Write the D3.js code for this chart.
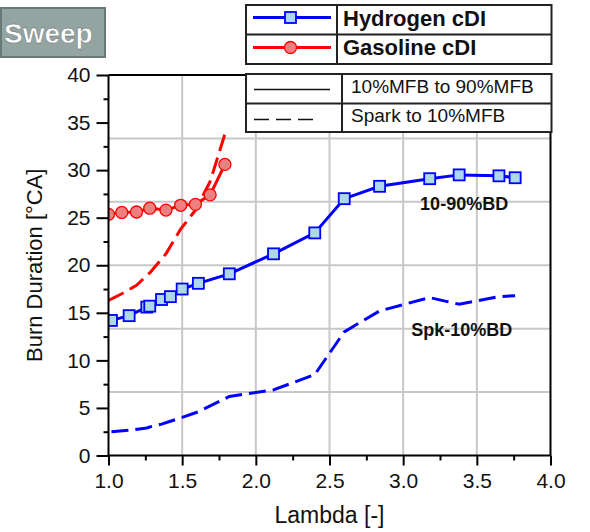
<!DOCTYPE html>
<html>
<head>
<meta charset="utf-8">
<script src="https://cdn.jsdelivr.net/npm/d3@7"></script>
<style>
  body { margin: 0; background: #fff; }
  svg { display: block; }
  text { font-family: "Liberation Sans", Arial, sans-serif; }
</style>
</head>
<body>
<svg id="chart" width="590" height="532"></svg>
<script>
// Hydrogen cDI sweep (lambda vs burn duration, °CA)
const hydrogenLambda  = [1.02, 1.14, 1.26, 1.28, 1.36, 1.42, 1.50, 1.61, 1.82, 2.12, 2.40, 2.60, 2.84, 3.18, 3.38, 3.65, 3.76];
const hydrogenBurn1090 = [14.2, 14.7, 15.6, 15.7, 16.4, 16.7, 17.5, 18.1, 19.1, 21.2, 23.4, 27.0, 28.3, 29.1, 29.5, 29.4, 29.2];
const hydrogenSpk10    = [2.5, 2.65, 2.9, 3.0, 3.3, 3.6, 4.0, 4.6, 6.2, 6.9, 8.5, 13.0, 15.2, 16.6, 15.9, 16.7, 16.8];

// Gasoline cDI sweep
const gasolineLambda   = [1.00, 1.09, 1.19, 1.28, 1.39, 1.49, 1.59, 1.69, 1.79];
const gasolineBurn1090 = [25.35, 25.55, 25.6, 26.0, 25.8, 26.3, 26.4, 27.4, 30.6];
const gasolineSpk10    = [16.3, 17.0, 17.9, 19.2, 21.2, 23.8, 25.8, 28.8, 33.8];

// Axis ticks and grid positions
const xMajorTicks = [1.0, 1.5, 2.0, 2.5, 3.0, 3.5, 4.0];
const xMinorTicks = [1.25, 1.75, 2.25, 2.75, 3.25, 3.75];
const yMajorTicks = [0, 5, 10, 15, 20, 25, 30, 35, 40];
const yMinorTicks = [2.5, 7.5, 12.5, 17.5, 22.5, 27.5, 32.5, 37.5];
const xGrid = [1.5, 2.0, 2.5, 3.0, 3.5];
const yGrid = [20 / 3, 40 / 3, 20, 80 / 3, 100 / 3];

// Curve annotations (data units)
const curveLabels = [
  { text: "10-90%BD",  lambda: 3.115, value: 25.8 },
  { text: "Spk-10%BD", lambda: 3.055, value: 12.55 }
];

const seriesLegend = ["Hydrogen cDI", "Gasoline cDI"];
const styleLegend = ["10%MFB to 90%MFB", "Spark to 10%MFB"];

const BLUE = "#0000ff", RED = "#ff0000";
const DASH = "17,7";
const SQ = 11;   // square marker side
const CR = 6;    // circle marker radius

const svg = d3.select("#chart");
const x = d3.scaleLinear().domain([1, 4]).range([108.5, 550.5]);
const y = d3.scaleLinear().domain([0, 40]).range([455.5, 75]);
const [x0, x1] = x.range();
const [yb, yt] = y.range();

// "Sweep" tag
svg.append("rect").attr("x", 1).attr("y", 8).attr("width", 104).attr("height", 49)
  .attr("fill", "#93a4a1").attr("stroke", "#667b78").attr("stroke-width", 2);
svg.append("text").attr("x", 4).attr("y", 43).attr("font-size", 28).attr("font-weight", "bold")
  .attr("fill", "#fff").attr("stroke", "#55606a").attr("stroke-width", 0.4).text("Sweep");

// Grid
const grid = svg.append("g").attr("stroke", "#c8c8c8").attr("stroke-width", 2);
grid.selectAll(".gx").data(xGrid).join("line")
  .attr("x1", d => x(d)).attr("x2", d => x(d)).attr("y1", yt).attr("y2", yb);
grid.selectAll(".gy").data(yGrid).join("line")
  .attr("y1", d => y(d)).attr("y2", d => y(d)).attr("x1", x0).attr("x2", x1);

// Plot clip
svg.append("clipPath").attr("id", "plotClip").append("rect")
  .attr("x", x0).attr("y", yt).attr("width", x1 - x0).attr("height", yb - yt);
const plot = svg.append("g").attr("clip-path", "url(#plotClip)");

function drawLine(xs, ys, color, dashed) {
  const pts = xs.map((v, i) => [v, ys[i]]);
  plot.append("path").datum(pts)
    .attr("fill", "none").attr("stroke", color).attr("stroke-width", 3)
    .attr("stroke-dasharray", dashed ? DASH : null)
    .attr("d", d3.line().x(d => x(d[0])).y(d => y(d[1])));
}

drawLine(gasolineLambda, gasolineSpk10, RED, true);
drawLine(hydrogenLambda, hydrogenSpk10, BLUE, true);
drawLine(gasolineLambda, gasolineBurn1090, RED, false);
drawLine(hydrogenLambda, hydrogenBurn1090, BLUE, false);

// Markers
plot.selectAll(".circ").data(gasolineLambda.map((v, i) => [v, gasolineBurn1090[i]])).join("circle")
  .attr("cx", d => x(d[0])).attr("cy", d => y(d[1])).attr("r", CR)
  .attr("fill", "#f08080").attr("stroke", RED).attr("stroke-width", 1.3);
plot.selectAll(".sq").data(hydrogenLambda.map((v, i) => [v, hydrogenBurn1090[i]])).join("rect")
  .attr("x", d => x(d[0]) - SQ / 2).attr("y", d => y(d[1]) - SQ / 2).attr("width", SQ).attr("height", SQ)
  .attr("fill", "#add8e6").attr("stroke", BLUE).attr("stroke-width", 1.8);

// Curve labels
svg.selectAll(".clab").data(curveLabels).join("text")
  .attr("x", d => x(d.lambda)).attr("y", d => y(d.value))
  .attr("font-size", 18).attr("font-weight", "bold").attr("fill", "#111")
  .text(d => d.text);

// Axes frame
const axisG = svg.append("g").attr("stroke", "#000").attr("stroke-width", 2);
axisG.append("line").attr("x1", x0).attr("x2", x0).attr("y1", yt).attr("y2", yb);
axisG.append("line").attr("x1", x0).attr("x2", x1).attr("y1", yb).attr("y2", yb);
axisG.append("line").attr("x1", x0).attr("x2", x1).attr("y1", yt).attr("y2", yt);
axisG.append("line").attr("x1", x1).attr("x2", x1).attr("y1", yt).attr("y2", yb);

const xAxis = svg.append("g").attr("transform", `translate(0,${yb})`)
  .call(d3.axisBottom(x).tickValues(xMajorTicks).tickFormat(d3.format(".1f")).tickSize(10).tickPadding(8));
const xMinor = svg.append("g").attr("transform", `translate(0,${yb})`)
  .call(d3.axisBottom(x).tickValues(xMinorTicks).tickFormat("").tickSize(5));
const yAxis = svg.append("g").attr("transform", `translate(${x0},0)`)
  .call(d3.axisLeft(y).tickValues(yMajorTicks).tickFormat(d3.format("d")).tickSize(12).tickPadding(6));
const yMinor = svg.append("g").attr("transform", `translate(${x0},0)`)
  .call(d3.axisLeft(y).tickValues(yMinorTicks).tickFormat("").tickSize(5));

[xAxis, xMinor, yAxis, yMinor].forEach(g => {
  g.select(".domain").remove();
  g.selectAll(".tick line").attr("stroke", "#000").attr("stroke-width", 2);
  g.selectAll("text").attr("font-size", 21).attr("fill", "#111")
    .attr("font-family", '"Liberation Sans", Arial, sans-serif');
});

// Axis titles
svg.append("text").attr("x", (x0 + x1) / 2).attr("y", 523).attr("text-anchor", "middle")
  .attr("font-size", 23).attr("fill", "#111").text("Lambda [-]");
svg.append("text").attr("transform", `translate(42,${(yt + yb) / 2}) rotate(-90)`)
  .attr("text-anchor", "middle").attr("font-size", 22).attr("fill", "#111").text("Burn Duration [°CA]");

// Series legend
const lg1 = svg.append("g");
lg1.append("rect").attr("x", 246).attr("y", 5).attr("width", 305.5).attr("height", 59)
  .attr("fill", "#fff").attr("stroke", "#222").attr("stroke-width", 2);
lg1.append("line").attr("x1", 246).attr("x2", 551.5).attr("y1", 34.5).attr("y2", 34.5).attr("stroke", "#222").attr("stroke-width", 2);
lg1.append("line").attr("x1", 337).attr("x2", 337).attr("y1", 5).attr("y2", 64).attr("stroke", "#222").attr("stroke-width", 2);
lg1.append("line").attr("x1", 253).attr("x2", 331).attr("y1", 17.5).attr("y2", 17.5).attr("stroke", BLUE).attr("stroke-width", 3);
lg1.append("rect").attr("x", 290.5 - SQ / 2).attr("y", 17.5 - SQ / 2).attr("width", SQ).attr("height", SQ)
  .attr("fill", "#add8e6").attr("stroke", BLUE).attr("stroke-width", 1.8);
lg1.append("line").attr("x1", 253).attr("x2", 331).attr("y1", 47.5).attr("y2", 47.5).attr("stroke", RED).attr("stroke-width", 3);
lg1.append("circle").attr("cx", 290.5).attr("cy", 47.5).attr("r", CR)
  .attr("fill", "#f08080").attr("stroke", RED).attr("stroke-width", 1.3);
lg1.selectAll(".t").data(seriesLegend).join("text")
  .attr("x", 343).attr("y", (d, i) => 26 + i * 29)
  .attr("font-size", 22).attr("font-weight", "bold").attr("fill", "#111").text(d => d);

// Line-style legend
const lg2 = svg.append("g");
lg2.append("rect").attr("x", 246).attr("y", 74).attr("width", 305.5).attr("height", 58)
  .attr("fill", "#fff").attr("stroke", "#222").attr("stroke-width", 2);
lg2.append("line").attr("x1", 246).attr("x2", 551.5).attr("y1", 103.5).attr("y2", 103.5).attr("stroke", "#222").attr("stroke-width", 2);
lg2.append("line").attr("x1", 342).attr("x2", 342).attr("y1", 74).attr("y2", 132).attr("stroke", "#222").attr("stroke-width", 2);
lg2.append("line").attr("x1", 254).attr("x2", 330).attr("y1", 89.5).attr("y2", 89.5).attr("stroke", "#111").attr("stroke-width", 1.6);
lg2.append("line").attr("x1", 254).attr("x2", 320).attr("y1", 119.5).attr("y2", 119.5).attr("stroke", "#111").attr("stroke-width", 1.6)
  .attr("stroke-dasharray", "15,7");
lg2.selectAll(".t").data(styleLegend).join("text")
  .attr("x", 351).attr("y", (d, i) => 93 + i * 29)
  .attr("font-size", 19).attr("fill", "#111").text(d => d);
</script>
</body>
</html>
